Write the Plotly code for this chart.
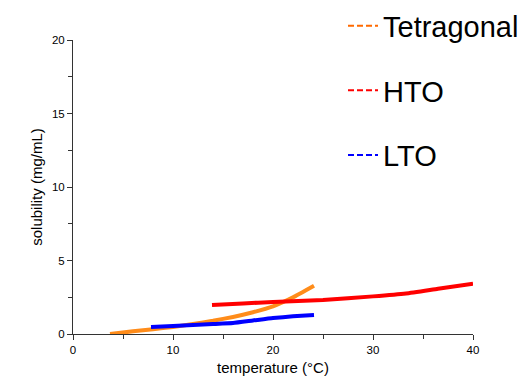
import plotly.graph_objects as go

# Solubility curves (mg/mL) versus temperature (°C)
tetragonal_t = [3.7, 6.0, 8.0, 10.0, 12.0, 14.0, 16.0, 18.0, 20.0, 22.0, 24.1]
tetragonal_s = [0.0, 0.18, 0.33, 0.48, 0.68, 0.9, 1.16, 1.48, 1.88, 2.5, 3.29]

hto_t = [13.9, 17.0, 20.0, 25.0, 30.0, 33.3, 36.5, 40.0]
hto_s = [1.97, 2.08, 2.18, 2.31, 2.56, 2.76, 3.08, 3.42]

lto_t = [7.8, 10.0, 12.0, 14.0, 16.0, 18.0, 20.0, 22.0, 24.1]
lto_s = [0.48, 0.55, 0.62, 0.68, 0.75, 0.92, 1.09, 1.2, 1.29]

names = ["Tetragonal", "HTO", "LTO"]
curve_colors = ["#FF8C1A", "#FF0000", "#0000FF"]
legend_colors = ["#FF6A00", "#FF0000", "#0000FF"]

FONT = "Arial, Liberation Sans, sans-serif"

fig = go.Figure()
for xs, ys, col in [(tetragonal_t, tetragonal_s, curve_colors[0]),
                    (hto_t, hto_s, curve_colors[1]),
                    (lto_t, lto_s, curve_colors[2])]:
    fig.add_trace(go.Scatter(x=xs, y=ys, mode="lines", showlegend=False,
                             line=dict(color=col, width=4, shape="spline", smoothing=0.4)))

# Dashed legend keys
for i, (nm, col) in enumerate(zip(names, legend_colors)):
    fig.add_trace(go.Scatter(x=[None], y=[None], mode="lines", name=nm,
                             legendgroup=f"g{i}",
                             line=dict(color=col, width=2, dash="6px,3px")))

axis_common = dict(
    showline=True, linecolor="#333333", linewidth=1,
    ticks="outside", ticklen=5, tickwidth=1, tickcolor="#333333",
    showgrid=False, zeroline=False,
    tickfont=dict(family=FONT, size=11.5, color="#000000"),
    title_font=dict(family=FONT, size=15, color="#000000"),
)

fig.update_layout(
    width=532, height=385,
    margin=dict(l=73, r=59, t=40, b=51, autoexpand=False),
    paper_bgcolor="white", plot_bgcolor="white",
    xaxis=dict(range=[0, 40], tickvals=[0, 10, 20, 30, 40],
               minor=dict(tickvals=[5, 15, 25, 35], ticks="outside", ticklen=4,
                          tickcolor="#333333"),
               title_text="temperature (°C)", title_standoff=7, **axis_common),
    yaxis=dict(range=[0, 20], tickvals=[0, 5, 10, 15, 20],
               minor=dict(tickvals=[2.5, 7.5, 12.5, 17.5], ticks="outside", ticklen=4,
                          tickcolor="#333333"),
               title_text="solubility (mg/mL)", title_standoff=5, **axis_common),
    legend=dict(x=0.675, y=1.135, xanchor="left", yanchor="top",
                xref="paper", yref="paper",
                font=dict(family=FONT, size=29, color="#000000"),
                tracegroupgap=24, itemwidth=30, bgcolor="rgba(0,0,0,0)"),
    font=dict(family=FONT),
)

fig.write_html("out.html")
